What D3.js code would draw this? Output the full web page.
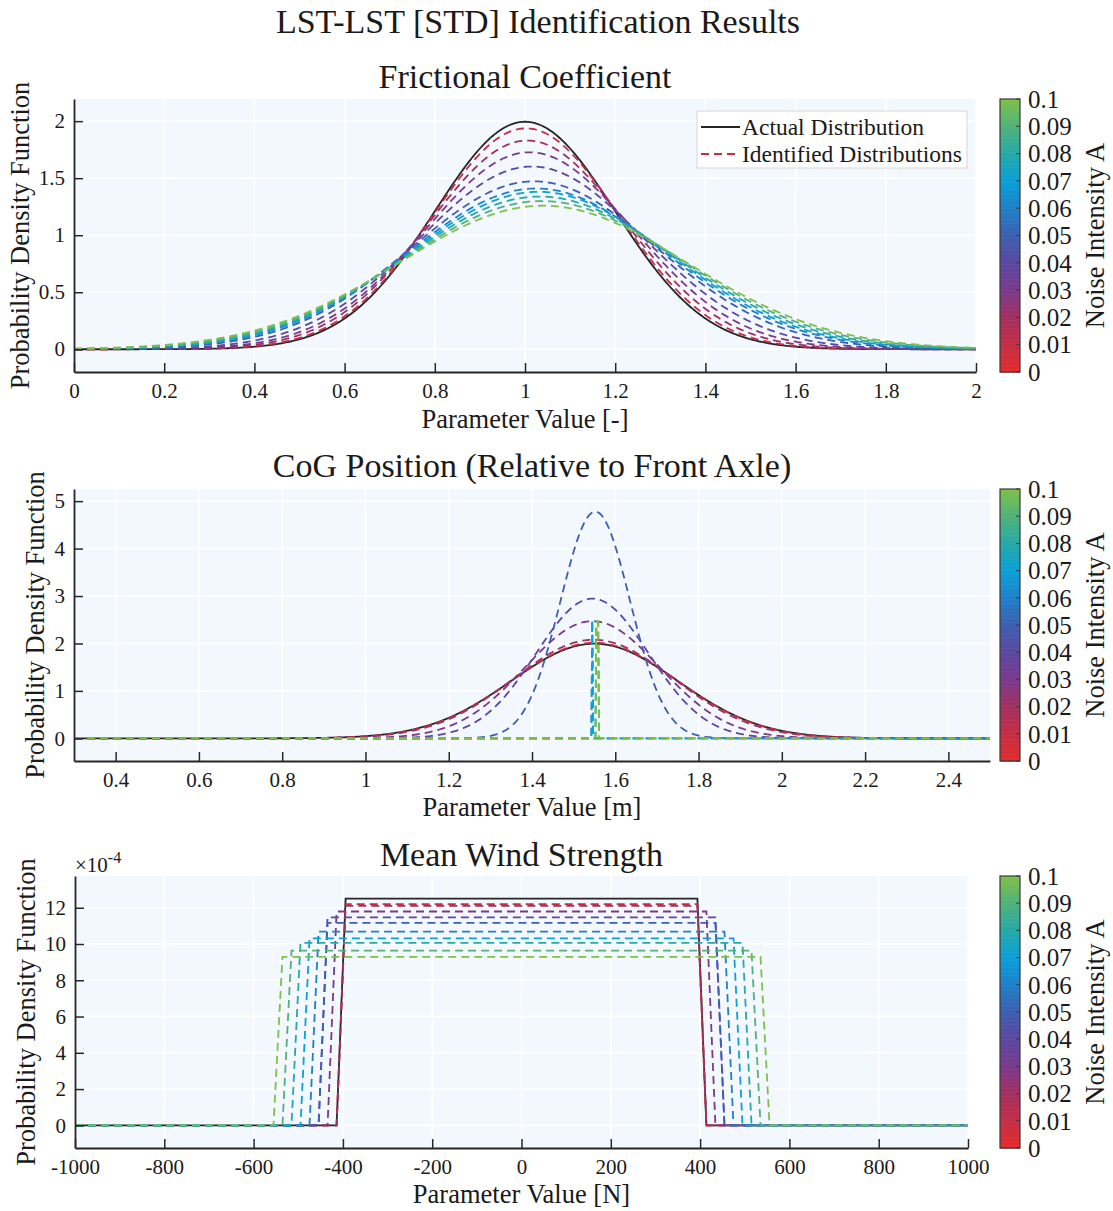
<!DOCTYPE html>
<html>
<head>
<meta charset="utf-8">
<script src="https://cdn.jsdelivr.net/npm/d3@7"></script>
<style>
  html, body { margin: 0; padding: 0; background: #ffffff; }
  svg { display: block; font-family: "Liberation Serif", "Times New Roman", serif; }
</style>
</head>
<body>
<svg id="fig" width="1113" height="1211"></svg>
<script>
// ---------------------------------------------------------------
// Noise intensities of the identification runs and colorbar ticks
// ---------------------------------------------------------------
const noiseLevels   = [0.01, 0.02, 0.03, 0.04, 0.05, 0.06, 0.07, 0.08, 0.09, 0.1];
const colorbarTicks = [0, 0.01, 0.02, 0.03, 0.04, 0.05, 0.06, 0.07, 0.08, 0.09, 0.1];

// Frictional coefficient: actual normal distribution and identified normal fits
const frictionActualMean = 1.0;
const frictionActualStd  = 0.2;
const frictionMean = [1.002, 1.005, 1.01, 1.015, 1.02, 1.025, 1.03, 1.033, 1.037, 1.04];
const frictionStd  = [0.206, 0.218, 0.231, 0.249, 0.271, 0.283, 0.289, 0.298, 0.307, 0.317];
const frictionXTicks = [0, 0.2, 0.4, 0.6, 0.8, 1, 1.2, 1.4, 1.6, 1.8, 2];
const frictionYTicks = [0, 0.5, 1, 1.5, 2];

// CoG position: actual normal distribution, identified fits for A = 0.01..0.05
const cogActualMean = 1.55;
const cogActualStd  = 0.2;
const cogMean = [1.55, 1.548, 1.545, 1.545, 1.552];
const cogStd  = [0.198, 0.192, 0.1615, 0.1355, 0.0835];
// for A = 0.06..0.1 the identified spread collapses onto a single spike
const cogSpikeStart  = [1.5447, 1.5447, 1.5545, 1.5545, 1.5545];
const cogSpikeEnd    = [1.5447, 1.5447, 1.5589, 1.5589, 1.5589];
const cogSpikeHeight = [2.49, 2.49, 2.46, 2.46, 2.46];
const cogXTicks = [0.4, 0.6, 0.8, 1, 1.2, 1.4, 1.6, 1.8, 2, 2.2, 2.4];
const cogYTicks = [0, 1, 2, 3, 4, 5];

// Mean wind strength: actual and identified uniform distributions [N]
const windActualLower = -400;
const windActualUpper = 400;
const windLower = [-410, -413, -424, -436, -448, -468, -485, -497, -519, -538];
const windUpper = [410, 413, 424, 436, 448, 468, 485, 497, 519, 538];
const windXTicks = [-1000, -800, -600, -400, -200, 0, 200, 400, 600, 800, 1000];
const windYTicks = [0, 2, 4, 6, 8, 10, 12];   // in units of 1e-4

// ---------------------------------------------------------------
// Colormap for the noise intensity
// ---------------------------------------------------------------
const cmapColors = ["#e52b2b", "#c42f45", "#a3305f", "#7a3a8c", "#5b48a0", "#3d5fb0",
                    "#1f80c8", "#0aa0d8", "#25a9a8", "#50b27a", "#7ec04a"];
const noiseColor = d3.scaleLinear()
  .domain(colorbarTicks)
  .range(cmapColors)
  .interpolate(d3.interpolateRgb);

// ---------------------------------------------------------------
// Density helpers
// ---------------------------------------------------------------
function normalPdf(x, mu, sigma) {
  const z = (x - mu) / sigma;
  return Math.exp(-0.5 * z * z) / (sigma * Math.sqrt(2 * Math.PI));
}
function linspace(a, b, n) {
  return d3.range(n).map(i => a + (b - a) * i / (n - 1));
}
function normalCurve(grid, mu, sigma) {
  return grid.map(x => [x, normalPdf(x, mu, sigma)]);
}
// uniform pdf evaluated on the sampling grid, scaled to 1e-4 units
function uniformCurve(grid, lo, hi) {
  const h = 1e4 / (hi - lo);
  return grid.map(x => [x, (x >= lo && x <= hi) ? h : 0]);
}
// collapsed identification: zero everywhere except a narrow spike
function spikeCurve(x0, x1, start, end, height, step) {
  return [[x0, 0], [start - step, 0], [start, height], [end, height], [end + step, 0], [x1, 0]];
}

const frictionGrid = linspace(0, 2, 801);
const cogGrid = linspace(0.3, 2.5, 1001);
const windGrid = linspace(-1000, 1000, 100);

const frictionCurves = noiseLevels.map((a, i) => ({
  noise: a, pts: normalCurve(frictionGrid, frictionMean[i], frictionStd[i])
}));
const cogCurves = noiseLevels.map((a, i) => {
  if (i < cogMean.length) return { noise: a, pts: normalCurve(cogGrid, cogMean[i], cogStd[i]) };
  const k = i - cogMean.length;
  return { noise: a, pts: spikeCurve(0.3, 2.5, cogSpikeStart[k], cogSpikeEnd[k], cogSpikeHeight[k], 0.0022) };
});
const windCurves = noiseLevels.map((a, i) => ({
  noise: a, pts: uniformCurve(windGrid, windLower[i], windUpper[i])
}));

const frictionMax = normalPdf(frictionActualMean, frictionActualMean, frictionActualStd);
const cogMax = normalPdf(cogMean[4], cogMean[4], cogStd[4]);
const windMax = 1e4 / (windActualUpper - windActualLower);

// ---------------------------------------------------------------
// Panels
// ---------------------------------------------------------------
const panels = [
  {
    id: "fric", title: "Frictional Coefficient", xlabel: "Parameter Value [-]",
    left: 74, right: 976, top: 99, bottom: 372,
    xDomain: [0, 2], yDomain: [-0.1 * frictionMax, 1.1 * frictionMax],
    xTicks: frictionXTicks, yTicks: frictionYTicks,
    actual: normalCurve(frictionGrid, frictionActualMean, frictionActualStd),
    curves: frictionCurves, titleY: 88, xlabelY: 428, ylabelX: 21, legend: true
  },
  {
    id: "cog", title: "CoG Position (Relative to Front Axle)", xlabel: "Parameter Value [m]",
    left: 74, right: 990, top: 489, bottom: 761,
    xDomain: [0.3, 2.5], yDomain: [-0.1 * cogMax, 1.1 * cogMax],
    xTicks: cogXTicks, yTicks: cogYTicks,
    actual: normalCurve(cogGrid, cogActualMean, cogActualStd),
    curves: cogCurves, titleY: 477, xlabelY: 816, ylabelX: 36
  },
  {
    id: "wind", title: "Mean Wind Strength", xlabel: "Parameter Value [N]",
    left: 75, right: 968, top: 876, bottom: 1148,
    xDomain: [-1000, 1000], yDomain: [-0.1 * windMax, 1.1 * windMax],
    xTicks: windXTicks, yTicks: windYTicks,
    actual: uniformCurve(windGrid, windActualLower, windActualUpper),
    curves: windCurves, titleY: 866, xlabelY: 1203, ylabelX: 27, exponent: true
  }
];

const svg = d3.select("#fig");
const AXIS = "#262626";
const TEXT = "#1a1a1a";
const DASH = "8,5";
const LW = 1.8;

svg.append("text")
  .attr("x", 538).attr("y", 33)
  .attr("text-anchor", "middle")
  .attr("font-size", 34).attr("fill", TEXT)
  .text("LST-LST [STD] Identification Results");

const fmt = d => String(d);

panels.forEach(p => {
  const g = svg.append("g").attr("class", p.id);
  const x = d3.scaleLinear().domain(p.xDomain).range([p.left, p.right]);
  const y = d3.scaleLinear().domain(p.yDomain).range([p.bottom, p.top]);

  // plot area background
  g.append("rect")
    .attr("x", p.left).attr("y", p.top)
    .attr("width", p.right - p.left).attr("height", p.bottom - p.top)
    .attr("fill", "#f3f7fe");

  // white grid lines
  g.append("g").selectAll("line").data(p.xTicks).join("line")
    .attr("x1", d => x(d)).attr("x2", d => x(d))
    .attr("y1", p.top).attr("y2", p.bottom)
    .attr("stroke", "#ffffff").attr("stroke-width", 1.6);
  g.append("g").selectAll("line").data(p.yTicks).join("line")
    .attr("x1", p.left).attr("x2", p.right)
    .attr("y1", d => y(d)).attr("y2", d => y(d))
    .attr("stroke", "#ffffff").attr("stroke-width", 1.6);

  // clip for the curves
  const clipId = "clip-" + p.id;
  svg.append("clipPath").attr("id", clipId).append("rect")
    .attr("x", p.left).attr("y", p.top)
    .attr("width", p.right - p.left).attr("height", p.bottom - p.top);

  const line = d3.line().x(d => x(d[0])).y(d => y(d[1]));
  const cg = g.append("g").attr("clip-path", `url(#${clipId})`);

  cg.append("path")
    .attr("d", line(p.actual))
    .attr("fill", "none").attr("stroke", "#262626").attr("stroke-width", LW);

  cg.selectAll("path.ident").data(p.curves).join("path")
    .attr("class", "ident")
    .attr("d", d => line(d.pts))
    .attr("fill", "none")
    .attr("stroke", d => noiseColor(d.noise))
    .attr("stroke-width", LW)
    .attr("stroke-dasharray", DASH);

  // axes: left and bottom only, ticks pointing inward
  const xAxis = d3.axisBottom(x).tickValues(p.xTicks).tickFormat(fmt)
    .tickSizeInner(-9).tickSizeOuter(0).tickPadding(11);
  const yAxis = d3.axisLeft(y).tickValues(p.yTicks).tickFormat(fmt)
    .tickSizeInner(-9).tickSizeOuter(0).tickPadding(9);

  const gx = g.append("g").attr("transform", `translate(0,${p.bottom})`).call(xAxis);
  const gy = g.append("g").attr("transform", `translate(${p.left},0)`).call(yAxis);
  [gx, gy].forEach(a => {
    a.select(".domain").attr("stroke", AXIS).attr("stroke-width", 1.8);
    a.selectAll(".tick line").attr("stroke", AXIS).attr("stroke-width", 1.5);
    a.selectAll(".tick text").attr("fill", TEXT)
      .attr("font-size", 21).attr("font-family", "Liberation Serif, serif");
  });

  // titles and labels
  g.append("text")
    .attr("x", (p.left + p.right) / 2).attr("y", p.titleY)
    .attr("text-anchor", "middle").attr("font-size", 34).attr("fill", TEXT)
    .text(p.title);
  g.append("text")
    .attr("x", (p.left + p.right) / 2).attr("y", p.xlabelY)
    .attr("text-anchor", "middle").attr("font-size", 26.5).attr("fill", TEXT)
    .text(p.xlabel);
  g.append("text")
    .attr("transform", `translate(${p.ylabelX},${(p.top + p.bottom) / 2}) rotate(-90)`)
    .attr("text-anchor", "middle").attr("dy", "0.3em")
    .attr("font-size", 26.5).attr("fill", TEXT)
    .text("Probability Density Function");

  if (p.exponent) {
    const t = g.append("text")
      .attr("x", p.left).attr("y", p.top - 4)
      .attr("font-size", 21).attr("fill", TEXT);
    t.append("tspan").text("\u00d710");
    t.append("tspan").attr("dy", -9).attr("font-size", 16).text("-4");
  }

  // colorbar
  const cbL = 1000, cbW = 20;
  const cy = d3.scaleLinear().domain([0, 0.1]).range([p.bottom, p.top]);
  const steps = d3.range(0, 200);
  g.append("g").selectAll("rect").data(steps).join("rect")
    .attr("x", cbL).attr("width", cbW)
    .attr("y", i => cy(0.1 * (i + 1) / 200))
    .attr("height", i => cy(0.1 * i / 200) - cy(0.1 * (i + 1) / 200) + 0.6)
    .attr("fill", i => noiseColor(0.1 * (i + 0.5) / 200));
  g.append("rect")
    .attr("x", cbL).attr("y", p.top).attr("width", cbW).attr("height", p.bottom - p.top)
    .attr("fill", "none").attr("stroke", "#3a3a3a").attr("stroke-width", 1.2);
  g.append("g").selectAll("line").data(colorbarTicks).join("line")
    .attr("x1", cbL + cbW - 4).attr("x2", cbL + cbW)
    .attr("y1", d => cy(d)).attr("y2", d => cy(d))
    .attr("stroke", "#3a3a3a").attr("stroke-width", 1);
  g.append("g").selectAll("text").data(colorbarTicks).join("text")
    .attr("x", cbL + cbW + 8).attr("y", d => cy(d)).attr("dy", "0.35em")
    .attr("font-size", 25).attr("fill", TEXT)
    .text(fmt);
  g.append("text")
    .attr("transform", `translate(1095,${(p.top + p.bottom) / 2}) rotate(-90)`)
    .attr("text-anchor", "middle").attr("dy", "0.35em")
    .attr("font-size", 26.5).attr("fill", TEXT)
    .text("Noise Intensity A");

  // legend
  if (p.legend) {
    const lg = g.append("g");
    lg.append("rect")
      .attr("x", 697).attr("y", 111).attr("width", 270).attr("height", 57)
      .attr("fill", "#ffffff").attr("stroke", "#d6d6d6").attr("stroke-width", 1);
    const items = [
      { label: "Actual Distribution", color: "#262626", dash: null },
      { label: "Identified Distributions", color: noiseColor(noiseLevels[0]), dash: DASH }
    ];
    items.forEach((it, i) => {
      const yy = 127 + i * 27;
      lg.append("line")
        .attr("x1", 701).attr("x2", 740).attr("y1", yy).attr("y2", yy)
        .attr("stroke", it.color).attr("stroke-width", LW)
        .attr("stroke-dasharray", it.dash);
      lg.append("text")
        .attr("x", 742).attr("y", yy).attr("dy", "0.35em")
        .attr("font-size", 23.5).attr("fill", TEXT)
        .text(it.label);
    });
  }
});
</script>
</body>
</html>
